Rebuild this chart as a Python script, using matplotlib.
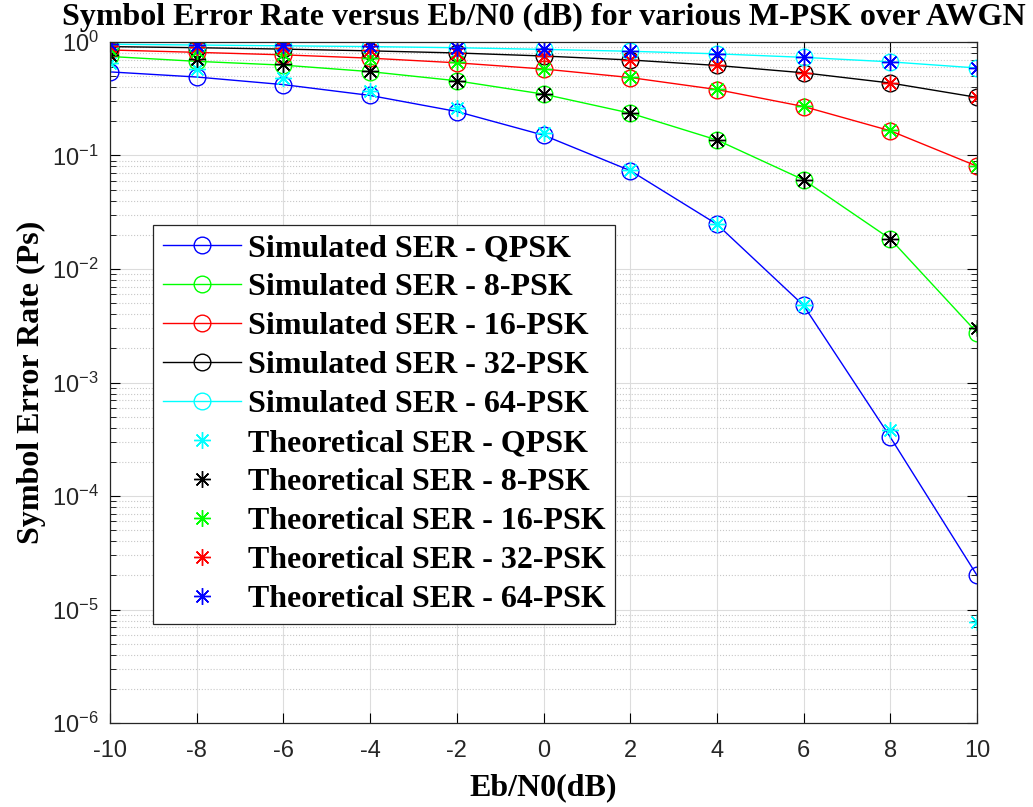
import numpy as np
import matplotlib
matplotlib.use('Agg')
import matplotlib.pyplot as plt
from matplotlib.ticker import FixedLocator, LogLocator, FuncFormatter, NullFormatter

plt.rcParams['font.family'] = ['Liberation Sans', 'DejaVu Sans']
plt.rcParams['mathtext.fontset'] = 'custom'
plt.rcParams['mathtext.rm'] = 'Liberation Sans'
plt.rcParams['mathtext.default'] = 'regular'
plt.rcParams['axes.unicode_minus'] = False

# Eb/N0 en dB
ebn0_db = [-10, -8, -6, -4, -2, 0, 2, 4, 6, 8, 10]

# SER simulada
sim_qpsk = [0.545, 0.491, 0.421, 0.338, 0.244, 0.151, 0.0736, 0.0248, 0.00477, 3.3e-4, 2.0e-5]
sim_8psk = [0.745, 0.675, 0.625, 0.548, 0.455, 0.347, 0.236, 0.137, 0.0610, 0.0184, 0.00275]
sim_16psk = [0.850, 0.810, 0.770, 0.720, 0.655, 0.578, 0.486, 0.381, 0.270, 0.165, 0.0805]
sim_32psk = [0.910, 0.890, 0.865, 0.835, 0.800, 0.752, 0.694, 0.621, 0.535, 0.435, 0.325]
sim_64psk = [0.955, 0.940, 0.925, 0.910, 0.890, 0.860, 0.828, 0.786, 0.732, 0.668, 0.590]

# SER teorica
th_qpsk = [0.655, 0.573, 0.478, 0.372, 0.261, 0.157, 0.0750, 0.0250, 0.00477, 3.81e-4, 7.7e-6]
th_8psk = [0.767, 0.709, 0.639, 0.554, 0.456, 0.349, 0.238, 0.137, 0.0613, 0.0185, 0.00304]
th_16psk = [0.861, 0.826, 0.782, 0.728, 0.661, 0.581, 0.487, 0.382, 0.271, 0.166, 0.0810]
th_32psk = [0.922, 0.902, 0.877, 0.845, 0.806, 0.757, 0.696, 0.623, 0.536, 0.436, 0.327]
th_64psk = [0.957, 0.946, 0.932, 0.915, 0.893, 0.865, 0.831, 0.788, 0.734, 0.669, 0.591]

nombres = ['QPSK', '8-PSK', '16-PSK', '32-PSK', '64-PSK']
sim_series = [sim_qpsk, sim_8psk, sim_16psk, sim_32psk, sim_64psk]
th_series = [th_qpsk, th_8psk, th_16psk, th_32psk, th_64psk]
col_sim = ['#0000ff', '#00ff00', '#ff0000', '#000000', '#00ffff']
col_th = ['#00ffff', '#000000', '#00ff00', '#ff0000', '#0000ff']

serif = ['Liberation Serif', 'DejaVu Serif']
asterisco = (8, 2, 0)

fig = plt.figure(figsize=(10.33, 8.07), dpi=100)
ax = fig.add_axes([0.1065, 0.104, 0.8393, 0.844])

for datos, c, n in zip(sim_series, col_sim, nombres):
    ax.semilogy(ebn0_db, datos, '-', color=c, marker='o', markersize=12,
                markerfacecolor='none', markeredgewidth=1.0, linewidth=1.0,
                label='Simulated SER - ' + n)
for datos, c, n in zip(th_series, col_th, nombres):
    ax.semilogy(ebn0_db, datos, linestyle='none', color=c, marker=asterisco,
                markersize=12, markeredgewidth=1.0, label='Theoretical SER - ' + n)

ax.set_xlim(-10, 10)
ax.set_ylim(1e-6, 1)
ax.set_xticks(np.arange(-10, 11, 2))
ax.yaxis.set_major_locator(FixedLocator([10.0 ** k for k in range(-6, 1)]))
ax.yaxis.set_minor_locator(LogLocator(base=10, subs=np.arange(2, 10), numticks=20))
ax.yaxis.set_minor_formatter(NullFormatter())
ax.yaxis.set_major_formatter(FuncFormatter(lambda v, p: '$10^{%d}$' % int(round(np.log10(v)))))

ax.tick_params(which='both', direction='in', top=True, right=True, labelsize=17,
               labelcolor='#262626')
ax.tick_params(axis='x', which='major', pad=12)
ax.tick_params(axis='y', which='major', pad=8)
ax.tick_params(which='major', length=7, width=0.8)
ax.tick_params(which='minor', length=4, width=0.6)

ax.grid(which='major', color='#dcdcdc', linestyle='-', linewidth=0.8)
ax.grid(which='minor', axis='y', color='#c8c8c8', linestyle=':', linewidth=0.8)
ax.set_axisbelow(True)
for s in ax.spines.values():
    s.set_linewidth(0.9)
    s.set_color('#262626')

ax.set_title('Symbol Error Rate versus Eb/N0 (dB) for various M-PSK over AWGN',
             fontsize=23, fontweight='bold', family=serif, pad=12)
ax.set_xlabel('Eb/N0(dB)', fontsize=23, fontweight='bold', family=serif, labelpad=8)
ax.set_ylabel('Symbol Error Rate (Ps)', fontsize=23, fontweight='bold', family=serif, labelpad=4)

leg = ax.legend(loc='upper left', bbox_to_anchor=(0.05, 0.732),
                prop={'family': serif, 'weight': 'bold', 'size': 23},
                handlelength=2.45, labelspacing=0.3, borderpad=0.3,
                handletextpad=0.2, borderaxespad=0, fancybox=False,
                framealpha=1, edgecolor='#262626')
leg.get_frame().set_linewidth(0.9)

fig.savefig('out.png', dpi=100)
